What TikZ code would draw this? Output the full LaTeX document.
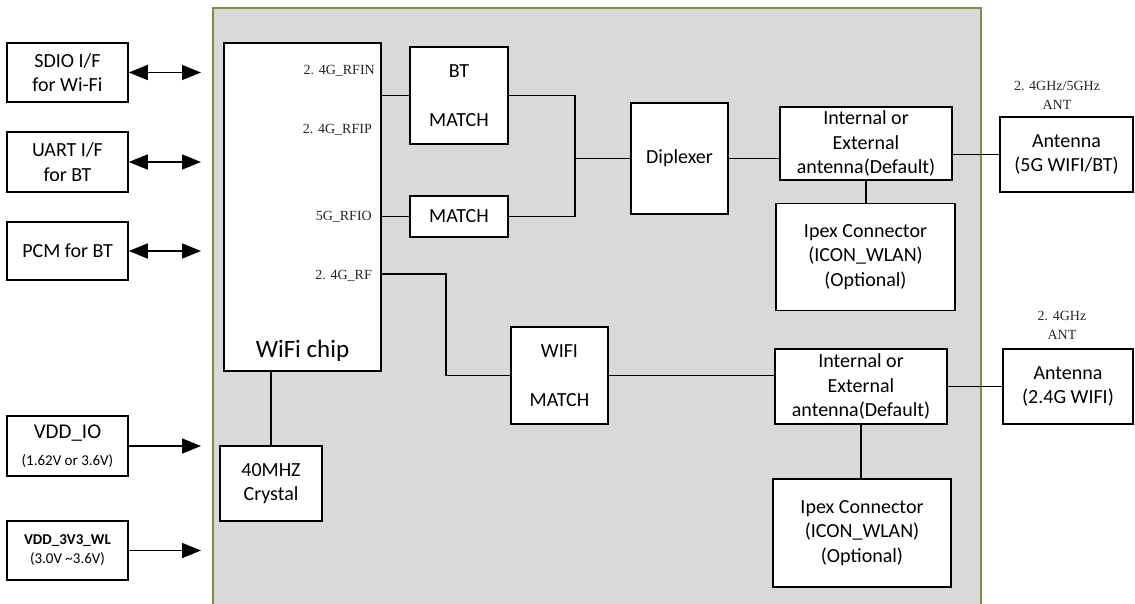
\documentclass[tikz,border=0pt]{standalone}
\usepackage{fontspec}
\setmainfont{Carlito}
\newfontfamily\pinfont{Liberation Serif}
\usetikzlibrary{arrows.meta}
\definecolor{panelgray}{HTML}{D9D9D9}
\definecolor{panelgreen}{HTML}{77933C}
\tikzset{
  blk/.style={draw=black, fill=white, line width=1.5pt, inner sep=0pt, align=center, font=\fontsize{20}{24.5}\selectfont},
  pinlbl/.style={font=\pinfont\fontsize{14}{16}\selectfont, text=black!85, inner sep=0pt},
  antlbl/.style={font=\pinfont\fontsize{14}{19}\selectfont, text=black!85, align=center, inner sep=0pt},
  wire/.style={line width=1.5pt, draw=black},
  bus/.style={line width=1.5pt, {Triangle[length=19pt,width=15pt]}-{Triangle[length=19pt,width=15pt]}},
  feed/.style={line width=1.5pt, -{Triangle[length=19pt,width=15pt]}},
}
\begin{document}
\begin{tikzpicture}[x=1pt,y=-1pt]
\useasboundingbox (0,0) rectangle (1135,603);
% module panel
\fill[panelgray] (213,8) rectangle (981,620);
\draw[panelgreen, line width=2pt] (213,620) -- (213,8) -- (981,8) -- (981,620);
\coordinate (inedge) at (201,0);
% host side
\node[blk, minimum width=121pt, minimum height=59pt] (sdio) at (67.5,72.5) {SDIO I/F\\for Wi-Fi};
\node[blk, minimum width=121pt, minimum height=60pt] (uart) at (67.5,162) {UART I/F\\for BT};
\node[blk, minimum width=121pt, minimum height=58pt] (pcm) at (67.5,251) {PCM for BT};
\node[blk, minimum width=121pt, minimum height=60pt] (vddio) at (67.5,446) {\fontsize{21}{22}\selectfont VDD\_IO\\[2pt]\fontsize{15}{18}\selectfont (1.62V or 3.6V)};
\node[blk, minimum width=121pt, minimum height=59pt, font=\fontsize{15}{19}\selectfont] (vddwl) at (67.5,550.5) {\textbf{VDD\_3V3\_WL}\\(3.0V \textasciitilde3.6V)};
\draw[bus] (sdio.east) -- (sdio.east -| inedge);
\draw[bus] (uart.east) -- (uart.east -| inedge);
\draw[bus] (pcm.east) -- (pcm.east -| inedge);
\draw[feed] (vddio.east) -- (vddio.east -| inedge);
\draw[feed] (vddwl.east) -- (vddwl.east -| inedge);
% chip
\node[blk, minimum width=157pt, minimum height=328pt] (chip) at (302.5,207) {};
\node[font=\fontsize{25}{28}\selectfont, anchor=base, inner sep=0pt] (chipname) at (302.5,357) {WiFi chip};
\node[pinlbl, anchor=base east] (rfin) at (375,74) {2. 4G\_RFIN};
\node[pinlbl, anchor=base east] (rfip) at (372,133) {2. 4G\_RFIP};
\node[pinlbl, anchor=base east] (rfio) at (372,220) {5G\_RFIO};
\node[pinlbl, anchor=base east] (rf) at (372,279) {2. 4G\_RF};
\node[blk, minimum width=102pt, minimum height=75pt] (xtal) at (271,483.5) {40MHZ\\Crystal};
\draw[wire] (chip.south -| xtal.north) -- (xtal.north);
% 5G / BT path
\node[blk, minimum width=98pt, minimum height=97pt] (btmatch) at (459,95.5) {BT\\ \\MATCH};
\node[blk, minimum width=98pt, minimum height=41pt] (match) at (459,216.5) {MATCH};
\node[blk, minimum width=97pt, minimum height=111pt] (dip) at (679.5,158.5) {Diplexer};
\node[blk, minimum width=172pt, minimum height=73pt] (int1) at (866,143.5) {Internal or\\External\\antenna(Default)};
\node[blk, minimum width=179pt, minimum height=107pt] (ipex1) at (865.5,257) {Ipex Connector\\(ICON\_WLAN)\\(Optional)};
\node[blk, minimum width=133pt, minimum height=75pt] (ant1) at (1066.5,154.5) {Antenna\\(5G WIFI/BT)};
\node[antlbl] (ant1lbl) at (1057,95) {2. 4GHz/5GHz\\ANT};
\coordinate (join) at (575,158.5);
\draw[wire] (chip.east |- btmatch.west) -- (btmatch.west);
\draw[wire] (chip.east |- match.west) -- (match.west);
\draw[wire] (btmatch.east) -| (join) |- (match.east);
\draw[wire] (join) -- (dip.west);
\draw[wire] (dip.east) -- (int1.west |- dip.east);
\draw[wire] (int1.east |- ant1.west) -- (ant1.west);
\draw[wire] (int1.south) -- (ipex1.north -| int1.south);
% 2.4G path
\node[blk, minimum width=97pt, minimum height=97pt] (wmatch) at (559.5,375.5) {WIFI\\ \\MATCH};
\node[blk, minimum width=172pt, minimum height=75pt] (int2) at (861,386.5) {Internal or\\External\\antenna(Default)};
\node[blk, minimum width=178pt, minimum height=108pt] (ipex2) at (862,533) {Ipex Connector\\(ICON\_WLAN)\\(Optional)};
\node[blk, minimum width=130pt, minimum height=75pt] (ant2) at (1068,386.5) {Antenna\\(2.4G WIFI)};
\node[antlbl] (ant2lbl) at (1062,325) {2. 4GHz\\ANT};
\coordinate (rfpin) at (381,274);
\coordinate (rfbend) at (446,375.5);
\draw[wire] (rfpin) -| (rfbend) -- (wmatch.west);
\draw[wire] (wmatch.east) -- (wmatch.east -| int2.west);
\draw[wire] (int2.east) -- (ant2.west);
\draw[wire] (int2.south) -- (ipex2.north -| int2.south);
\end{tikzpicture}
\end{document}
